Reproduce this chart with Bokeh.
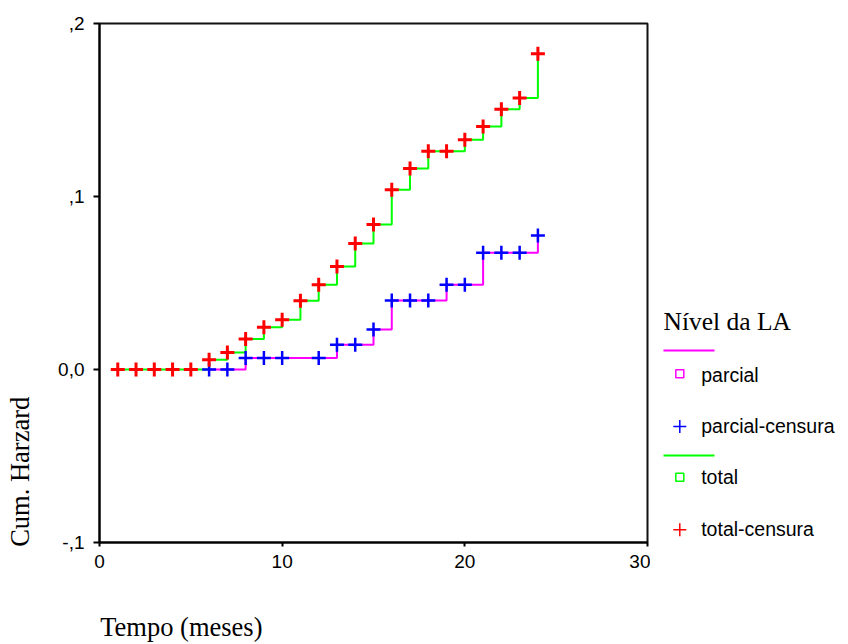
import numpy as np
from bokeh.plotting import figure
from bokeh.layouts import row
from bokeh.models import FixedTicker, Range1d, Label, ColumnDataSource, LinearAxis
from bokeh.embed import file_html
from bokeh.resources import INLINE

# ---- data ----
total_t = [1, 2, 3, 4, 5, 6, 7, 8, 9, 10, 11, 12, 13, 14, 15, 16, 17, 18, 19, 20, 21, 22, 23, 24]
total_h = [0, 0, 0, 0, 0, 0.0056, 0.0098, 0.0176, 0.0244, 0.0287, 0.0397, 0.0490, 0.0596,
           0.0728, 0.0838, 0.1039, 0.1162, 0.1262, 0.1262, 0.1328, 0.1405, 0.1505, 0.1570, 0.1825]
parcial_t = [6, 7, 8, 9, 10, 12, 13, 14, 15, 16, 17, 18, 19, 20, 21, 22, 23, 24]
parcial_h = [0, 0, 0.0066, 0.0066, 0.0066, 0.0066, 0.0143, 0.0143, 0.0231, 0.0399, 0.0399,
             0.0399, 0.0490, 0.0490, 0.0675, 0.0675, 0.0675, 0.0775]
x_ticks = [0, 10, 20, 30]
y_ticks = [-0.1, 0.0, 0.1, 0.2]
y_tick_labels = ["-,1", "0,0", ",1", ",2"]
legend_title = "Nível da LA"
legend_labels = ["parcial", "parcial-censura", "total", "total-censura"]
x_title = "Tempo (meses)"
y_title = "Cum. Harzard"

SANS = "Liberation Sans"
SERIF = "Liberation Serif"
TOP, BOTTOM = 23, 102
NBSP = "\u00a0"

p = figure(width=650, height=644, output_backend="svg", toolbar_location=None,
           x_range=Range1d(0, 30), y_range=Range1d(-0.1, 0.2),
           min_border_left=99, min_border_right=3, min_border_top=TOP, min_border_bottom=BOTTOM)
p.grid.visible = False
p.outline_line_color = "#111111"
p.outline_line_width = 2
p.background_fill_color = "white"
p.border_fill_color = "white"

for ax in (p.xaxis[0], p.yaxis[0]):
    ax.axis_line_width = 2
    ax.axis_line_color = "black"
    ax.major_tick_line_width = 2
    ax.major_tick_in = 0
    ax.minor_tick_line_color = None
    ax.major_label_text_font = SANS
    ax.major_label_text_font_size = "19px"
    ax.major_label_text_color = "black"

p.xaxis.ticker = FixedTicker(ticks=x_ticks)
p.xaxis.major_tick_out = 4
p.xaxis.major_label_standoff = 8
p.yaxis.ticker = FixedTicker(ticks=y_ticks)
p.yaxis.major_label_overrides = {t: l for t, l in zip(y_ticks, y_tick_labels)}
p.yaxis.major_tick_out = 6
p.yaxis.major_label_standoff = 9

src_t = ColumnDataSource(dict(t=total_t, h=total_h))
src_p = ColumnDataSource(dict(t=parcial_t, h=parcial_h))

p.step("t", "h", source=src_p, mode="after", line_color="#FF00FF", line_width=2)
p.step("t", "h", source=src_t, mode="after", line_color="#00FF00", line_width=2)
p.scatter("t", "h", source=src_p, marker="cross", size=14, line_color="#0000FF", line_width=2.5)
p.scatter("t", "h", source=src_t, marker="cross", size=14, line_color="#FF0000", line_width=3)


def title_axis(txt, pad, standoff):
    # axis-label-only axis; the label is centred on the axis, so trailing
    # no-break spaces move the visible words towards the axis start corner
    ax = LinearAxis(ticker=FixedTicker(ticks=[]),
                    axis_line_color=None, major_tick_line_color=None,
                    minor_tick_line_color=None, major_tick_out=0, major_tick_in=0,
                    minor_tick_out=0, major_label_standoff=0,
                    axis_label=txt + NBSP * pad, axis_label_standoff=standoff,
                    axis_label_text_font=SERIF, axis_label_text_font_size="26.5px",
                    axis_label_text_font_style="normal", axis_label_text_color="black")
    ax.axis_label_align = "center"
    return ax


p.add_layout(title_axis(x_title, 58, 41), "below")
p.add_layout(title_axis(y_title, 57, 21), "left")

# ---- legend panel (pixel coordinates of the canvas) ----
lg = figure(width=198, height=644, output_backend="svg", toolbar_location=None,
            x_axis_type=None, y_axis_type=None,
            x_range=Range1d(650, 848), y_range=Range1d(644 - BOTTOM, TOP),
            min_border_left=0, min_border_right=0,
            min_border_top=TOP, min_border_bottom=BOTTOM)
lg.grid.visible = False
lg.outline_line_color = None
lg.background_fill_color = "white"
lg.border_fill_color = "white"

lg.add_layout(Label(x=663, y=321, text=legend_title, text_font=SERIF, text_font_size="25.5px",
                    text_baseline="alphabetic", text_color="black"))
lg.segment(x0=[663, 663], y0=[350, 455], x1=[714, 714], y1=[350, 455],
           line_color=["#FF00FF", "#00FF00"], line_width=2)
lg.scatter(x=[679.3, 679.3], y=[373.3, 476.7], marker="square", size=8,
           fill_color=None, line_color=["#FF00FF", "#00FF00"], line_width=1.5)
lg.scatter(x=[679.3, 679.3], y=[426, 529.3], marker="cross", size=13,
           line_color=["#0000FF", "#FF0000"], line_width=1.5)
for lab, yb in zip(legend_labels, [374, 425, 476.5, 528]):
    lg.add_layout(Label(x=700.7, y=yb, text=lab, text_font=SANS, text_font_size="19.5px",
                        text_baseline="alphabetic", text_color="black"))

layout = row(p, lg)
open("out.html", "w").write(file_html(layout, INLINE))
